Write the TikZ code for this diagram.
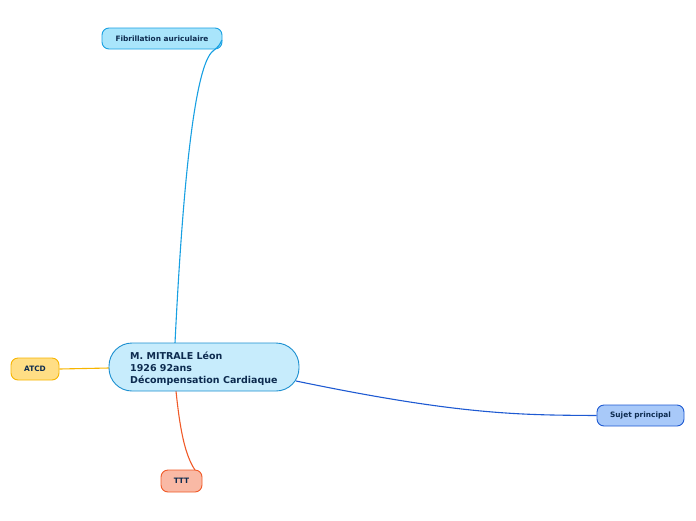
\documentclass[tikz,border=0pt]{standalone}
\usepackage{fontspec}
\setmainfont{DejaVu Sans}
\begin{document}
\begin{tikzpicture}[x=1pt,y=-1pt,
  topic/.style={draw, line width=0.9pt, rounded corners=7pt, font=\bfseries\fontsize{7.4}{8}\selectfont, text=textc, inner sep=0pt, minimum height=21pt},
  conn/.style={line width=1.1pt}]
\definecolor{textc}{HTML}{0D2B4F}
\definecolor{cfill}{HTML}{C7ECFC}
\definecolor{cdraw}{HTML}{1B8FD0}
\definecolor{ffill}{HTML}{A9E5FB}
\definecolor{fdraw}{HTML}{18A0E2}
\definecolor{afill}{HTML}{FFDE85}
\definecolor{adraw}{HTML}{F7B500}
\definecolor{tfill}{HTML}{F9B9A5}
\definecolor{tdraw}{HTML}{F05A28}
\definecolor{sfill}{HTML}{A8C9F9}
\definecolor{sdraw}{HTML}{1E5AD2}
\useasboundingbox (0,0) rectangle (696,520);
\coordinate (ctop) at (175,343);
\coordinate (cbot) at (176,391);
\coordinate (cright) at (296,381);
\coordinate (cleft) at (109,368);
\coordinate (fend) at (213,51);
\coordinate (ftip) at (222,40);
\coordinate (tend) at (195,470);
\node[topic, fill=ffill, draw=fdraw, minimum width=120pt] (fib) at (162,38.5) {Fibrillation auriculaire};
\node[topic, fill=afill, draw=adraw, minimum width=48pt, minimum height=22pt] (atcd) at (35,369) {ATCD};
\node[topic, fill=tfill, draw=tdraw, minimum width=41pt, minimum height=22pt] (ttt) at (181.5,481) {TTT};
\node[topic, fill=sfill, draw=sdraw, minimum width=87pt] (suj) at (640.5,415.5) {Sujet principal};
\draw[conn, draw=fdraw] (ctop) .. controls (183,180) and (195,65) .. (fend) .. controls (219,46) .. (ftip);
\draw[conn, draw=adraw] (atcd.east) -- (cleft);
\draw[conn, draw=tdraw] (cbot) .. controls (180,430) and (185,455) .. (tend);
\draw[conn, draw=sdraw] (cright) .. controls (460,415) and (520,415) .. (suj.west);
\node[draw=cdraw, fill=cfill, line width=0.9pt, rounded corners=23pt, minimum width=190pt, minimum height=48pt, inner sep=0pt] (center) at (204,367) {};
\node[anchor=west, align=left, font=\bfseries\fontsize{9.5}{12}\selectfont, text=textc, inner sep=0pt] (ctext) at (130,369) {M. MITRALE Léon\\1926 92ans\\Décompensation Cardiaque};
\end{tikzpicture}
\end{document}
